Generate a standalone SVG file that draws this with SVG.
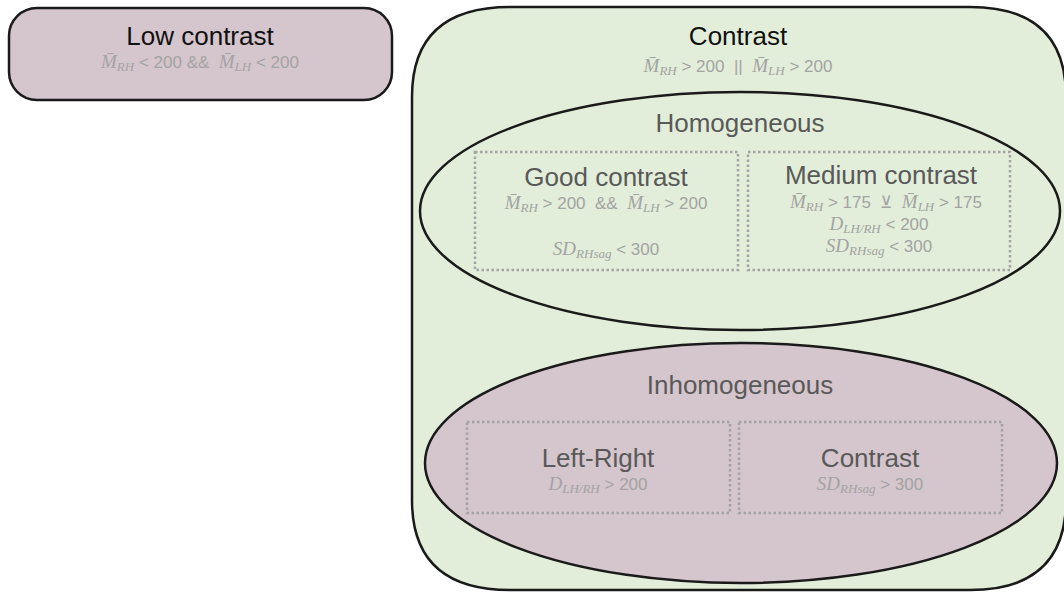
<svg xmlns="http://www.w3.org/2000/svg" width="1064" height="592" viewBox="0 0 1064 592">
<style>
.shape{stroke:#1a1a1a;stroke-width:2.5}
.green{fill:#e2eed9}
.mauve{fill:#d5c5cc}
.dot{fill:none;stroke:#a3a3a3;stroke-width:2.5;stroke-dasharray:2.5 2.5}
.t1{font-family:"Liberation Sans",Arial,sans-serif;font-size:26px;fill:#111;text-anchor:middle}
.t2{font-family:"Liberation Sans",Arial,sans-serif;font-size:26px;fill:#595959;text-anchor:middle}
.f{font-family:"Liberation Sans",Arial,sans-serif;font-size:17px;fill:#a3a3a3;text-anchor:middle}
.m{font-family:"Liberation Serif","DejaVu Serif",serif;font-style:italic;font-size:19px}
.s{font-family:"Liberation Serif","DejaVu Serif",serif;font-style:italic;font-size:13px}
</style>
<rect width="1064" height="592" fill="#ffffff"/>

<g id="low-contrast">
<rect class="shape mauve" x="9" y="8" width="383" height="92" rx="28" ry="28"/>
<text class="t1" x="200" y="45">Low contrast</text>
<text class="f" x="200" y="68"><tspan class="m">M̄</tspan><tspan class="s" dy="3">RH</tspan><tspan dy="-3"> &lt; 200 &amp;&amp;&#160; </tspan><tspan class="m">M̄</tspan><tspan class="s" dy="3">LH</tspan><tspan dy="-3"> &lt; 200</tspan></text>
</g>

<g id="contrast">
<path class="shape green" d="M412,97 Q412,7 510,7 L970,7 Q1066,7 1066,97 L1066,500 Q1066,590 970,590 L510,590 Q412,590 412,500 Z"/>
<text class="t1" x="738" y="45">Contrast</text>
<text class="f" x="738" y="72"><tspan class="m">M̄</tspan><tspan class="s" dy="3">RH</tspan><tspan dy="-3"> &gt; 200&#160; ||&#160; </tspan><tspan class="m">M̄</tspan><tspan class="s" dy="3">LH</tspan><tspan dy="-3"> &gt; 200</tspan></text>
</g>

<g id="homogeneous">
<ellipse class="shape green" cx="740" cy="211" rx="320" ry="119"/>
<text class="t2" x="740" y="132">Homogeneous</text>
</g>

<g id="good-contrast">
<rect class="dot" x="475" y="152" width="263" height="118"/>
<text class="t2" x="606" y="186">Good contrast</text>
<text class="f" x="606" y="209"><tspan class="m">M̄</tspan><tspan class="s" dy="3">RH</tspan><tspan dy="-3"> &gt; 200&#160; &amp;&amp;&#160; </tspan><tspan class="m">M̄</tspan><tspan class="s" dy="3">LH</tspan><tspan dy="-3"> &gt; 200</tspan></text>
<text class="f" x="606" y="255"><tspan class="m">SD</tspan><tspan class="s" dy="3">RHsag</tspan><tspan dy="-3"> &lt; 300</tspan></text>
</g>

<g id="medium-contrast">
<rect class="dot" x="748" y="152" width="262" height="118"/>
<text class="t2" x="881" y="184">Medium contrast</text>
<text class="f" x="886" y="208"><tspan class="m">M̄</tspan><tspan class="s" dy="3">RH</tspan><tspan dy="-3"> &gt; 175&#160; ⊻&#160; </tspan><tspan class="m">M̄</tspan><tspan class="s" dy="3">LH</tspan><tspan dy="-3"> &gt; 175</tspan></text>
<text class="f" x="879" y="230"><tspan class="m">D</tspan><tspan class="s" dy="3">LH/RH</tspan><tspan dy="-3"> &lt; 200</tspan></text>
<text class="f" x="879" y="252"><tspan class="m">SD</tspan><tspan class="s" dy="3">RHsag</tspan><tspan dy="-3"> &lt; 300</tspan></text>
</g>

<g id="inhomogeneous">
<ellipse class="shape mauve" cx="741" cy="463" rx="316" ry="120"/>
<text class="t2" x="740" y="394">Inhomogeneous</text>
</g>

<g id="left-right">
<rect class="dot" x="467" y="422" width="263" height="91"/>
<text class="t2" x="598" y="467">Left-Right</text>
<text class="f" x="598" y="490"><tspan class="m">D</tspan><tspan class="s" dy="3">LH/RH</tspan><tspan dy="-3"> &gt; 200</tspan></text>
</g>

<g id="inhomogeneous-contrast">
<rect class="dot" x="739" y="422" width="263" height="91"/>
<text class="t2" x="870" y="467">Contrast</text>
<text class="f" x="870" y="490"><tspan class="m">SD</tspan><tspan class="s" dy="3">RHsag</tspan><tspan dy="-3"> &gt; 300</tspan></text>
</g>

<g id="connectors"/>
</svg>
